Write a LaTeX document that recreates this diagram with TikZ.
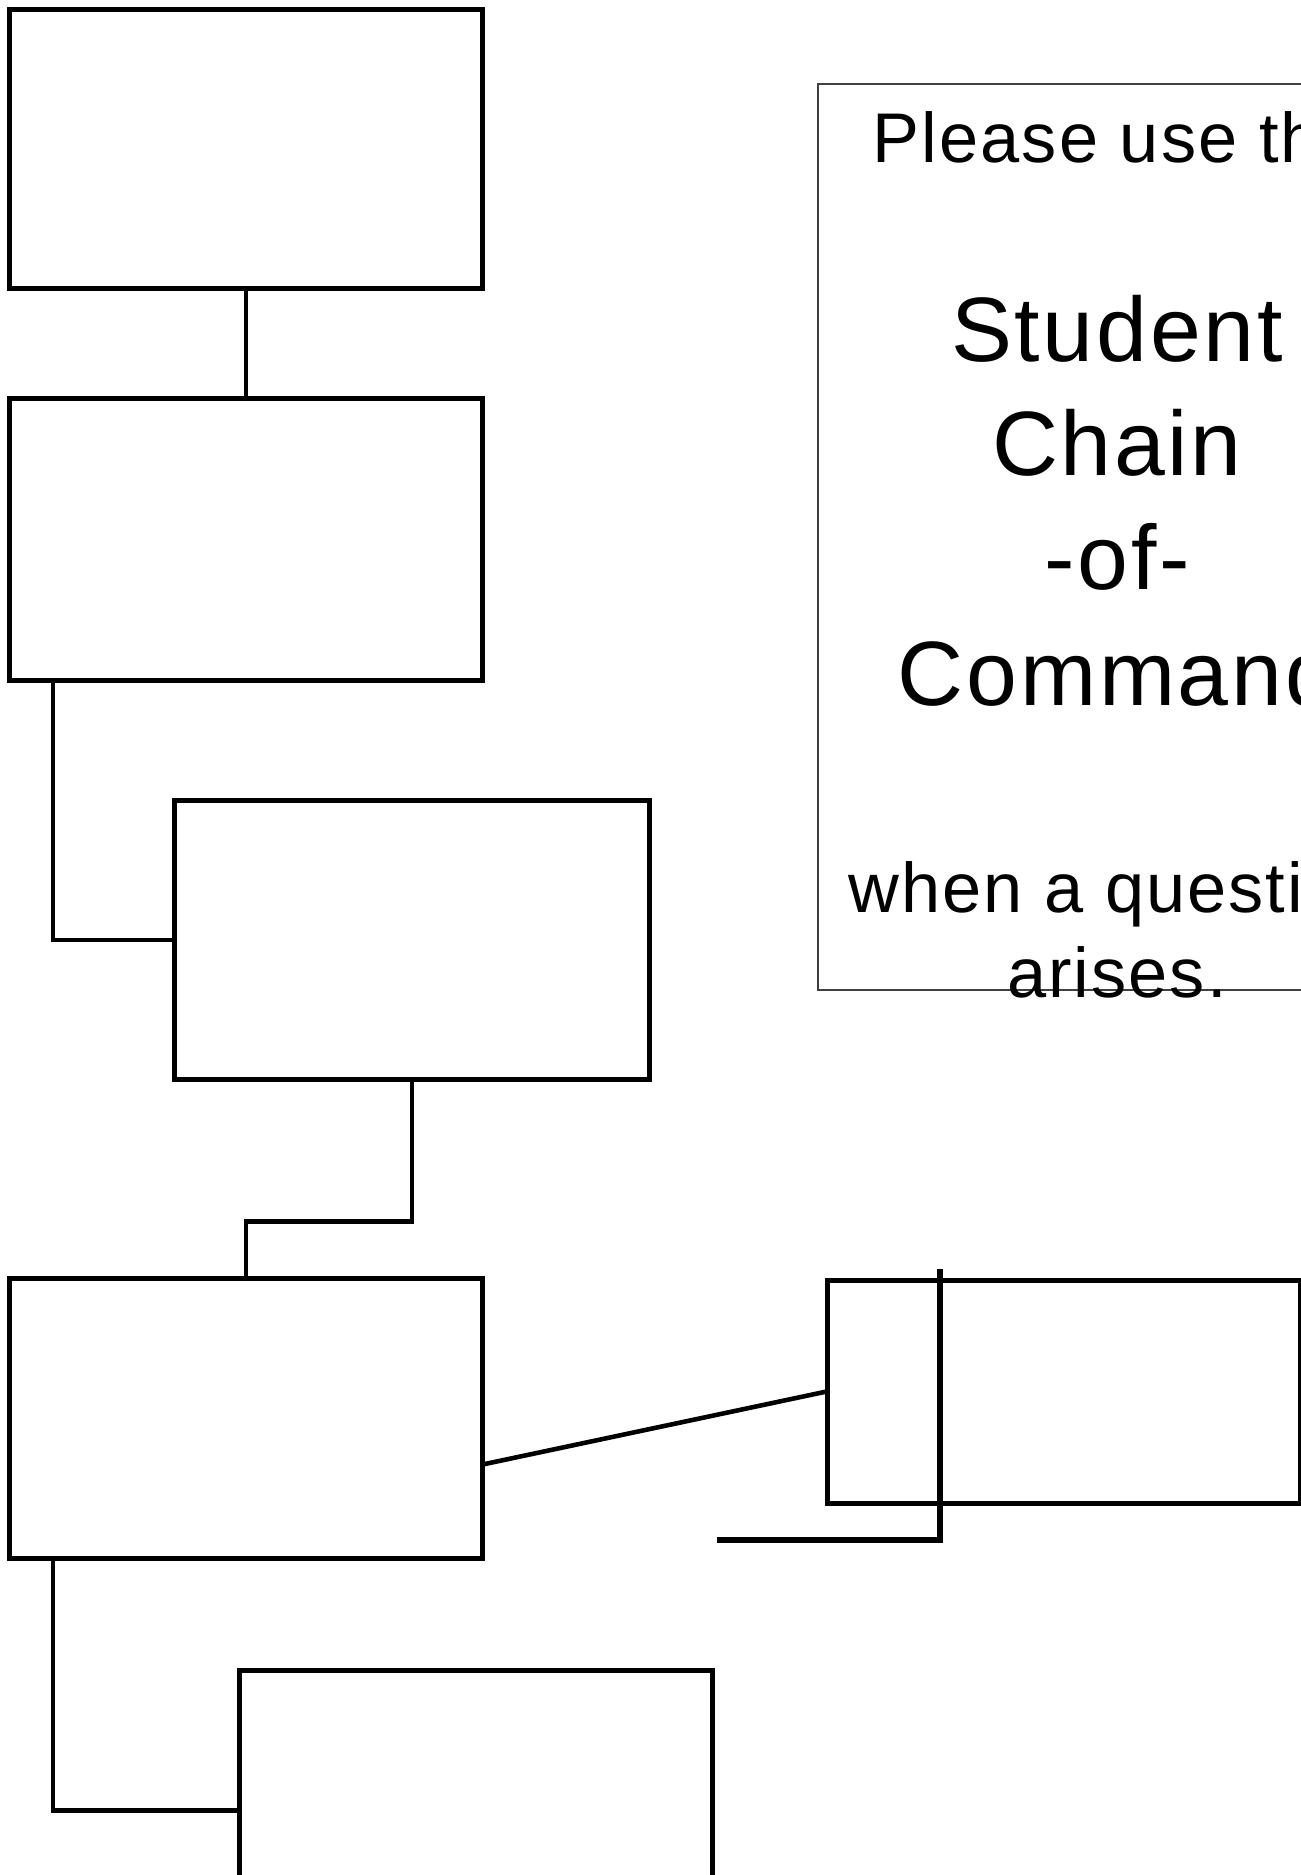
\documentclass[tikz,border=0pt]{standalone}
\usepackage{fontspec}
\setmainfont{Liberation Sans}
\newfontfamily\notefont[LetterSpace=3.0]{Liberation Sans}
\usepackage{xcolor}

\begin{document}
\begin{tikzpicture}
		[x=0.01cm, y=-0.01cm,
			block/.style ={rectangle, draw=black, line width=1.3pt, minimum width=4.73cm, minimum height=2.79cm, inner sep=0pt, anchor=north west},
 note/.style ={rectangle, draw=black!75, line width=0.6pt, minimum width=6cm, minimum height=9.05cm, inner sep=0pt, anchor=north west},
 line/.style ={draw, line width=1.3pt, line cap=rect},
 small/.style ={font=\notefont\fontsize{20}{24}\selectfont, anchor=base, inner sep=0pt},
 big/.style ={font=\notefont\fontsize{26}{32}\selectfont, anchor=base, inner sep=0pt}]
		\useasboundingbox (0,0) rectangle (1301,1875);
		\fill[white] (0,0) rectangle (1301,1875);
		\clip (0,0) rectangle (1301,1875);
%		% the boxes
		\node[block] (A) at (7,7) {};
		\node[block, minimum height=2.82cm] (B) at (7,396) {};
		\node[block, minimum width=4.75cm] (C) at (172,798) {};
		\node[block, minimum height=2.80cm] (D) at (7,1276) {};
		\node[block, minimum height=2.23cm] (E) at (825,1278) {};
		\node[block, minimum height=2.80cm] (F) at (237,1668) {};
%		% the note
		\node[note] (N) at (817,83) {};
		\node[small] (please) at (1117,162) {Please use the};
		\node[big] (student) at (1117,361) {Student};
		\node[big] (chain) at (1117,475) {Chain};
		\node[big] (of) at (1117,589) {-of-};
		\node[big] (command) at (1117,705) {Command};
		\node[small] (when) at (1117,912) {when a question};
		\node[small] (arises) at (1117,997) {arises.};
%		% the links
		\path[line] (A.south) -- (B.north);
		\path[line] ([xshift=0.46cm]B.south west) |- (C.west);
		\path[line] (C.south) -- ++(0,140) -| (D.north);
		\path[line] (D.east |- 0,1464) -- (E.west);
		\path[line] ([xshift=0.46cm]D.south west) |- (F.west);
%		% loose corner over the right box
		\coordinate (K) at (940,1269);
		\coordinate (L) at (717,1540);
		\draw[line width=1.8pt] (K) |- (L);
	\end{tikzpicture}
\end{document}
